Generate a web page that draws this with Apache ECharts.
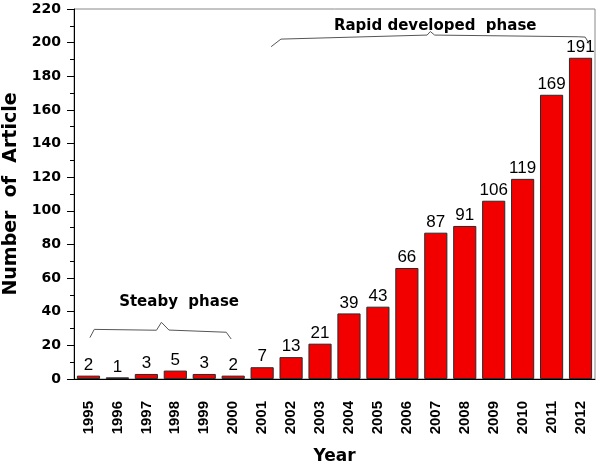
<!DOCTYPE html>
<html>
<head>
<meta charset="utf-8">
<script src="https://cdn.jsdelivr.net/npm/echarts@6/dist/echarts.min.js"></script>
<style>html,body{margin:0;padding:0;background:#fff;}#c{width:600px;height:465px;}</style>
</head>
<body>
<div id="c"></div>
<script>
var years = ['1995','1996','1997','1998','1999','2000','2001','2002','2003','2004','2005','2006','2007','2008','2009','2010','2011','2012'];
var articles = [2,1,3,5,3,2,7,13,21,39,43,66,87,91,106,119,169,191];
var yTicks = {min: 0, max: 220, interval: 20};

// bracket annotations in (category index, value) units
var steabyX = [0.05, 0.2, 2.35, 2.52, 2.78, 4.76, 4.93];
var steabyY = [24.6, 29.5, 29.0, 33.7, 29.1, 27.8, 23.8];
var steabyLabel = {text: 'Steaby  phase', x: 3.13, y: 45.8};
var rapidX = [6.31, 6.65, 11.70, 11.81, 11.96, 16.92, 17.16, 17.33];
var rapidY = [197.6, 202.1, 204.5, 206.6, 204.5, 203.5, 203.3, 198.6];
var rapidLabel = {text: 'Rapid developed  phase', x: 11.98, y: 210};

var brackets = [
  {x: steabyX, y: steabyY, label: steabyLabel},
  {x: rapidX, y: rapidY, label: rapidLabel}
];

var BOLD = 'DejaVu Sans';
var chart = echarts.init(document.getElementById('c'));
chart.setOption({
  animation: false,
  grid: {left: 74, right: 5, top: 9, bottom: 86, show: true, borderColor: '#888', borderWidth: 1,
         backgroundColor: 'transparent', containLabel: false, outerBoundsMode: 'none'},
  xAxis: [{
    type: 'category', data: years, position: 'bottom',
    axisLine: {lineStyle: {color: '#000', width: 1}},
    axisTick: {alignWithLabel: true, length: 7, lineStyle: {color: '#000'}},
    axisLabel: {rotate: 90, margin: 22, fontFamily: 'Liberation Sans', fontWeight: 'bold', fontSize: 15, color: '#000', interval: 0},
    name: 'Year', nameLocation: 'middle', nameGap: 69,
    nameTextStyle: {fontFamily: BOLD, fontWeight: 'bold', fontSize: 17, color: '#000'}
  }, {
    type: 'category', data: years, position: 'bottom', offset: 0,
    axisLine: {show: false},
    axisTick: {length: 3, lineStyle: {color: '#000'}},
    axisLabel: {show: false}
  }],
  yAxis: {
    type: 'value', min: yTicks.min, max: yTicks.max, interval: yTicks.interval,
    axisLine: {show: true, lineStyle: {color: '#000', width: 1}},
    axisTick: {show: true, length: 7, lineStyle: {color: '#000'}},
    minorTick: {show: true, splitNumber: 2, length: 4, lineStyle: {color: '#000'}},
    splitLine: {show: false},
    axisLabel: {margin: 13, fontFamily: BOLD, fontWeight: 'bold', fontSize: 14, color: '#000'},
    name: 'Number  of  Article', nameLocation: 'middle', nameGap: 48,
    nameTextStyle: {fontFamily: BOLD, fontWeight: 'bold', fontSize: 19, color: '#000'}
  },
  series: [{
    type: 'bar', data: articles, barWidth: '80%', xAxisIndex: 0,
    itemStyle: {color: '#f20000', borderColor: '#2a2a2a', borderWidth: 1},
    label: {show: true, position: 'top', distance: 2, color: '#000', fontFamily: 'Liberation Sans', fontSize: 17}
  }, {
    type: 'custom', xAxisIndex: 0, silent: true, z: 5,
    data: [[0, 0], [0, 0]],
    renderItem: function (params, api) {
      var b = brackets[params.dataIndex];
      var x0 = api.coord([0, 0])[0];
      var bw = api.coord([1, 0])[0] - x0;
      var pts = b.x.map(function (x, i) {
        return [x0 + x * bw, api.coord([0, b.y[i]])[1]];
      });
      var tx = x0 + b.label.x * bw;
      var ty = api.coord([0, b.label.y])[1];
      return {
        type: 'group',
        children: [
          {type: 'polyline', shape: {points: pts}, style: {stroke: '#555', lineWidth: 1, fill: null}},
          {type: 'text', x: tx, y: ty, style: {text: b.label.text, font: 'bold 15px "DejaVu Sans"', fill: '#000', align: 'center', verticalAlign: 'middle'}}
        ]
      };
    }
  }]
});
</script>
</body>
</html>
